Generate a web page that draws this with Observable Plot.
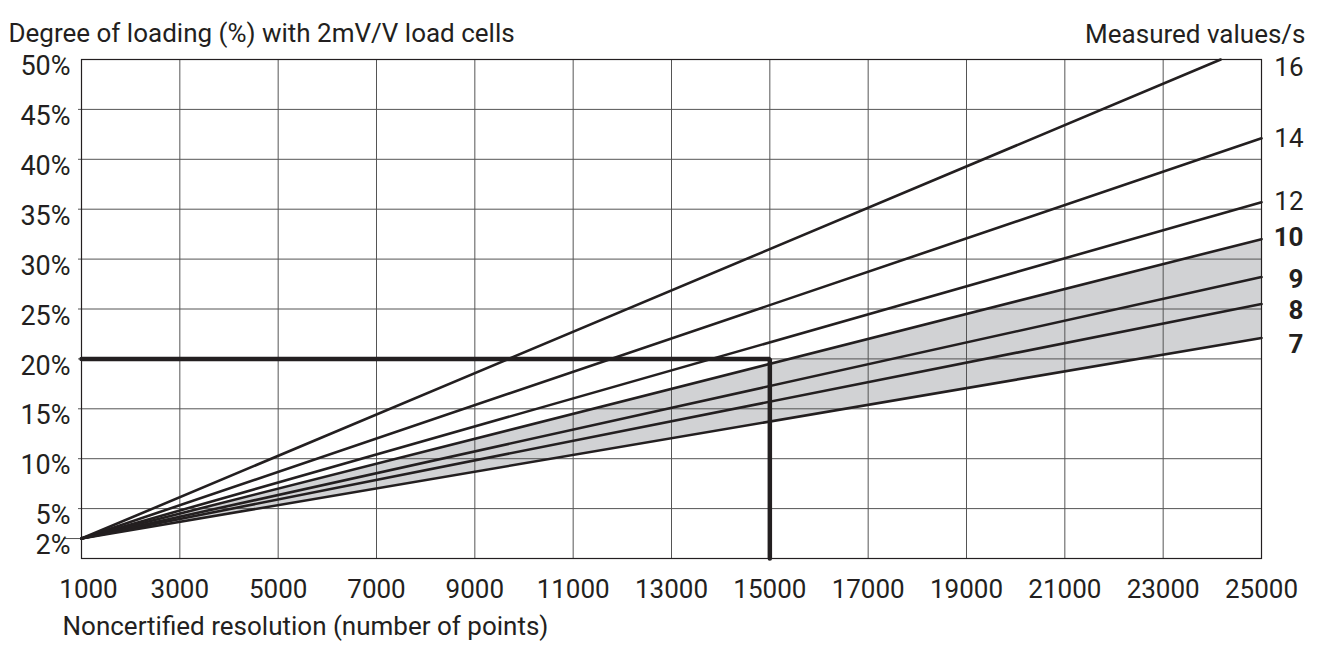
<!DOCTYPE html>
<html>
<head>
<meta charset="utf-8">
<script src="https://cdn.jsdelivr.net/npm/d3@7"></script>
<script src="https://cdn.jsdelivr.net/npm/@observablehq/plot@0.6"></script>
<style>
  html, body { margin: 0; padding: 0; background: #fff; }
  #chart svg { display: block; }
</style>
</head>
<body>
<div id="chart"></div>
<script>
// Data
const rates = [16, 14, 12, 10, 9, 8, 7];
const boldRates = [10, 9, 8, 7];
const startX = 1000;          // all lines start at 1000 points
const startY = 2;             // ... and 2 % loading
const endX = [24170, 25000, 25000, 25000, 25000, 25000, 25000];
const endY = [50, 42.1, 35.7, 32.0, 28.2, 25.5, 22.1];
const labelY = [49.2, 42.1, 35.8, 32.1, 27.9, 24.8, 21.4];
const xTicks = [1000, 3000, 5000, 7000, 9000, 11000, 13000, 15000, 17000, 19000, 21000, 23000, 25000];
const yTicks = [2, 5, 10, 15, 20, 25, 30, 35, 40, 45, 50];
const xGrid = [3000, 5000, 7000, 9000, 11000, 13000, 15000, 17000, 19000, 21000, 23000];
const yGrid = [5, 10, 15, 20, 25, 30, 35, 40, 45];
const markerX = [1000, 15000, 15000];
const markerY = [20, 20, 0];

const lines = rates.flatMap((r, i) => [
  {rate: r, x: startX, y: startY},
  {rate: r, x: endX[i], y: endY[i]}
]);
const i10 = rates.indexOf(10), i7 = rates.indexOf(7);
const band = [
  {x: startX, y1: startY, y2: startY},
  {x: endX[i7], y1: endY[i7], y2: endY[i10]}
];
const labels = rates.map((r, i) => ({rate: r, y: labelY[i], bold: boldRates.includes(r)}));
const marker = markerX.map((x, i) => ({x, y: markerY[i]}));

const ink = "#231f20";
const font = "Roboto, 'Liberation Sans', sans-serif";

const plot = Plot.plot({
  width: 1320,
  height: 651,
  marginLeft: 81,
  marginRight: 59,
  marginTop: 59,
  marginBottom: 93,
  style: {fontFamily: font, background: "#fff", color: ink},
  x: {domain: [1000, 25000], axis: null},
  y: {domain: [0, 50], axis: null},
  marks: [
    Plot.areaY(band, {x: "x", y1: "y1", y2: "y2", fill: "#d1d2d4"}),
    Plot.ruleX(xGrid, {stroke: "#555", strokeWidth: 1}),
    Plot.ruleY(yGrid, {stroke: "#555", strokeWidth: 1, x1: 1000, x2: 25000, insetLeft: -3}),
    Plot.ruleY([2], {stroke: "#555", strokeWidth: 1, x1: 1000, x2: 1000, insetLeft: -18}),
    Plot.frame({stroke: ink, strokeWidth: 1.2}),
    Plot.line(lines, {x: "x", y: "y", z: "rate", stroke: ink, strokeWidth: 2.6}),
    Plot.line(marker, {x: "x", y: "y", stroke: ink, strokeWidth: 4.5, strokeLinejoin: "miter"}),
    // y tick labels
    Plot.text(yTicks, {x: 1000, y: d => d, text: d => d + "%", textAnchor: "end", dx: -11, dy: 7, fontSize: 27, fill: ink}),
    // x tick labels
    Plot.text(xTicks.slice(0, 1), {x: d => d, frameAnchor: "bottom", text: d => String(d), dx: 7, dy: 39, fontSize: 26, fill: ink}),
    Plot.text(xTicks.slice(1), {x: d => d, frameAnchor: "bottom", text: d => String(d), dy: 39, fontSize: 26, fill: ink}),
    // right labels
    Plot.text(labels.filter(d => !d.bold), {x: 25000, y: "y", text: d => String(d.rate), textAnchor: "end", dx: 42, fontSize: 26, fill: ink}),
    Plot.text(labels.filter(d => d.bold), {x: 25000, y: "y", text: d => String(d.rate), textAnchor: "end", dx: 42, fontSize: 26, fontWeight: "bold", fill: ink}),
    // titles
    Plot.text(["Degree of loading (%) with 2mV/V load cells"], {frameAnchor: "top-left", text: d => d, textAnchor: "start", dx: -73, dy: -36, fontSize: 26, fill: ink}),
    Plot.text(["Measured values/s"], {frameAnchor: "top-right", text: d => d, textAnchor: "end", dx: 44, dy: -35, fontSize: 26, fill: ink}),
    Plot.text(["Noncertified resolution (number of points)"], {frameAnchor: "bottom-left", text: d => d, textAnchor: "start", dx: -19, dy: 76, fontSize: 26, fill: ink})
  ]
});
document.getElementById("chart").appendChild(plot);
</script>
</body>
</html>
